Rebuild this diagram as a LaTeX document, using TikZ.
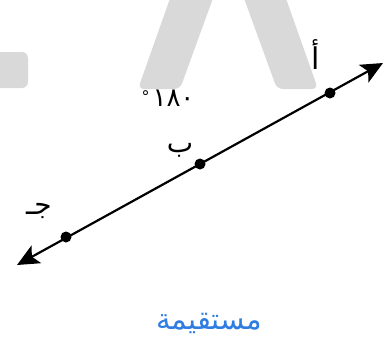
\documentclass[tikz,border=0pt]{standalone}
\usepackage{fontspec}
\usetikzlibrary{arrows.meta}
\TeXXeTstate=1
\newfontfamily\arabicfont[Script=Arabic]{DejaVu Sans}
\definecolor{wmgray}{HTML}{D9D9D9}
\definecolor{capblue}{HTML}{2F7DE1}
\tikzset{
  wm/.style={fill=wmgray, draw=none, rounded corners=6pt},
  ptdot/.style={circle, fill=black, inner sep=0pt, minimum size=11pt},
  lbl/.style={font=\arabicfont\fontsize{28}{30}\selectfont, inner sep=0pt},
  geoline/.style={line width=2.2pt, {Stealth[length=22pt,width=20pt,inset=5pt]}-{Stealth[length=22pt,width=20pt,inset=5pt]}}
}
\begin{document}
\begin{tikzpicture}[x=1pt,y=-1pt]
\useasboundingbox (0,0) rectangle (387,340);
% watermark
\fill[wm] (173,-10) -- (216,-10) -- (180,89) -- (138,89) -- cycle;
\fill[wm] (241,-10) -- (283,-10) -- (318,89) -- (277,89) -- cycle;
\fill[wm] (-10,52) -- (28,52) -- (28,88) -- (-10,88) -- cycle;
% line
\coordinate (e1) at (17,265);
\coordinate (e2) at (383,63);
\draw[geoline] (e1) -- (e2);
\node[ptdot] (A) at (330,93) {};
\node[ptdot] (B) at (200,164) {};
\node[ptdot] (C) at (66,237) {};
% labels
\node[lbl, font=\arabicfont\fontsize{30}{32}\selectfont] (la) at (316,55) {\beginR أ\endR};
\node[lbl] (lb) at (180,150) {\beginR ب\endR};
\node[lbl] (lc) at (39,211) {\beginR جـ\endR};
\node[lbl, font=\arabicfont\fontsize{26}{28}\selectfont] (deg) at (168,98) {\mbox{\raisebox{4pt}{\fontsize{16}{18}\selectfont °}}\hspace{3pt}\mbox{١٨٠}};
\node[inner sep=0pt, text=capblue, font=\arabicfont\fontsize{29}{31}\selectfont] (cap) at (209,323) {\beginR مستقيمة\endR};
\end{tikzpicture}
\end{document}
